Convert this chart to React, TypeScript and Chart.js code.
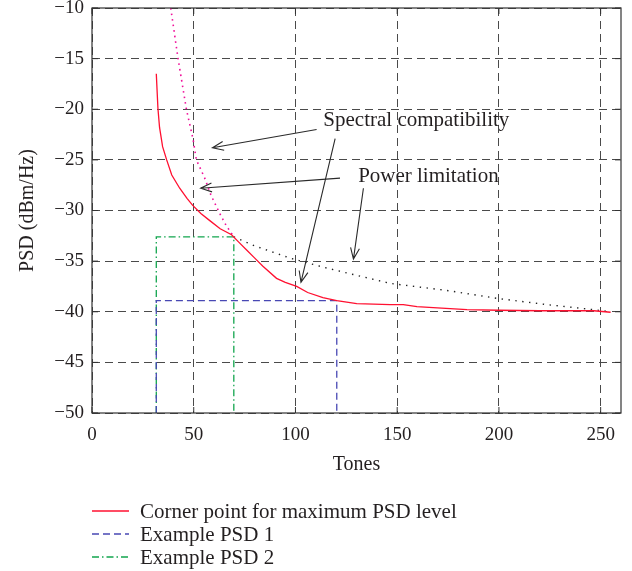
import { useEffect, useRef } from 'react';
import { Chart, registerables } from 'chart.js';

Chart.register(...registerables);

// ---- Data ----
const cornerTones = [31.6, 32.4, 33.2, 34.7, 36.7, 39.2, 43.1, 46.7, 49.5, 53.5, 57.9, 63, 68.6, 72, 76, 80, 84, 90.7, 95, 100.6, 106, 113.5, 120.3, 130.1, 146.6, 153, 159.7, 167.7, 184.3, 200, 220, 246.6, 254.9];
const cornerPSD = [-16.5, -19.9, -21.8, -23.7, -25, -26.5, -27.8, -28.8, -29.5, -30.3, -31, -31.8, -32.4, -33.1, -33.9, -34.7, -35.5, -36.7, -37.1, -37.5, -38.1, -38.6, -38.9, -39.2, -39.3, -39.3, -39.5, -39.6, -39.8, -39.85, -39.9, -39.9, -40.05];

const psd1Tones = [31.6, 31.6, 120.3, 120.3];
const psd1Values = [-50, -38.9, -38.9, -50];

const psd2Tones = [31.6, 31.6, 69.7, 69.7];
const psd2Values = [-50, -32.6, -32.6, -50];

const spectralTones = [38.7, 42.3, 46.4, 49.7, 51.3, 55.4, 58.5, 62.8, 66, 69.7];
const spectralPSD = [-10, -15, -20, -23, -25, -26.8, -28.5, -30.3, -31.5, -32.6];

const powerTones = [69.7, 80, 97.3, 113.7, 130, 146.6, 174.5, 199.9, 223.7, 246.7, 255];
const powerPSD = [-32.6, -33.5, -34.7, -35.6, -36.4, -37.2, -37.9, -38.7, -39.3, -39.8, -40];

const seriesLabels = ['Corner point for maximum PSD level', 'Example PSD 1', 'Example PSD 2', 'Spectral compatibility', 'Power limitation'];
const xTickValues = [0, 50, 100, 150, 200, 250];
const yTickValues = [-50, -45, -40, -35, -30, -25, -20, -15, -10];
const xAxisTitle = 'Tones';
const yAxisTitle = 'PSD (dBm/Hz)';

// annotation texts and arrows in data coordinates
const noteTexts = ['Spectral compatibility', 'Power limitation'];
const noteAnchors = [
  { x: 113.7, y: -21.65 },
  { x: 130.8, y: -27.15 },
];
const arrowList = [
  { from: { x: 110.4, y: -22.0 }, to: { x: 59.2, y: -23.8 } },
  { from: { x: 119.5, y: -22.9 }, to: { x: 102.7, y: -37.1 } },
  { from: { x: 121.9, y: -26.8 }, to: { x: 53.4, y: -27.8 } },
  { from: { x: 133.4, y: -27.8 }, to: { x: 128.5, y: -34.8 } },
];

const SERIF = '"Liberation Serif", "Times New Roman", serif';
const TEXT = '#231f20';

const pts = (xs: number[], ys: number[]) => xs.map((x, i) => ({ x, y: ys[i] }));
const fmt = (v: number) => (v < 0 ? '\u2212' + Math.abs(v) : String(v));

const overlayPlugin = {
  id: 'overlay',
  afterDatasetsDraw(chart: any) {
    const { ctx, chartArea: a, scales } = chart;
    const xs = scales.x;
    const ys = scales.y;
    ctx.save();
    // frame
    ctx.strokeStyle = '#333';
    ctx.lineWidth = 1.2;
    ctx.setLineDash([]);
    ctx.strokeRect(a.left, a.top, a.right - a.left, a.bottom - a.top);
    // inward tick marks
    ctx.lineWidth = 1;
    ctx.beginPath();
    for (const v of yTickValues) {
      const py = ys.getPixelForValue(v);
      ctx.moveTo(a.left, py); ctx.lineTo(a.left + 6, py);
      ctx.moveTo(a.right, py); ctx.lineTo(a.right - 6, py);
    }
    for (const v of xTickValues) {
      const px = xs.getPixelForValue(v);
      ctx.moveTo(px, a.bottom); ctx.lineTo(px, a.bottom - 6);
      ctx.moveTo(px, a.top); ctx.lineTo(px, a.top + 6);
    }
    ctx.stroke();

    // arrows
    ctx.strokeStyle = '#2a2a2a';
    ctx.lineWidth = 1.1;
    for (const ar of arrowList) {
      const x1 = xs.getPixelForValue(ar.from.x);
      const y1 = ys.getPixelForValue(ar.from.y);
      const x2 = xs.getPixelForValue(ar.to.x);
      const y2 = ys.getPixelForValue(ar.to.y);
      const ang = Math.atan2(y2 - y1, x2 - x1);
      const L = 12;
      const spread = 0.38;
      ctx.beginPath();
      ctx.moveTo(x1, y1);
      ctx.lineTo(x2, y2);
      ctx.moveTo(x2 - L * Math.cos(ang - spread), y2 - L * Math.sin(ang - spread));
      ctx.lineTo(x2, y2);
      ctx.lineTo(x2 - L * Math.cos(ang + spread), y2 - L * Math.sin(ang + spread));
      ctx.stroke();
    }

    // annotation texts
    ctx.fillStyle = TEXT;
    ctx.font = `21px ${SERIF}`;
    ctx.textAlign = 'left';
    ctx.textBaseline = 'alphabetic';
    noteTexts.forEach((t, i) => {
      ctx.fillText(t, xs.getPixelForValue(noteAnchors[i].x), ys.getPixelForValue(noteAnchors[i].y));
    });

    // legend (first three datasets)
    const rowY = [511, 534, 557];
    for (let i = 0; i < 3; i++) {
      const ds = chart.data.datasets[i];
      const y = rowY[i];
      ctx.strokeStyle = ds.borderColor;
      ctx.lineWidth = ds.borderWidth;
      ctx.setLineDash(ds.borderDash || []);
      ctx.beginPath();
      ctx.moveTo(a.left, y);
      ctx.lineTo(a.left + 37, y);
      ctx.stroke();
      ctx.setLineDash([]);
      ctx.fillStyle = TEXT;
      ctx.font = `21px ${SERIF}`;
      ctx.textBaseline = 'middle';
      ctx.fillText(ds.label, a.left + 48, y + 1);
    }
    ctx.restore();
  },
};

export default function App() {
  const ref = useRef<HTMLCanvasElement>(null);
  useEffect(() => {
    document.body.style.margin = '0';
    const canvas = ref.current!;
    const tickFont = { family: SERIF, size: 19 };
    const titleFont = { family: SERIF, size: 20 };
    const chart = new Chart(canvas, {
      type: 'scatter',
      data: {
        datasets: [
          { label: seriesLabels[0], data: pts(cornerTones, cornerPSD), borderColor: '#ff1030', borderWidth: 1.3, showLine: true, pointRadius: 0, borderDash: [] },
          { label: seriesLabels[1], data: pts(psd1Tones, psd1Values), borderColor: '#4848b4', borderWidth: 1.3, showLine: true, pointRadius: 0, borderDash: [7, 4] },
          { label: seriesLabels[2], data: pts(psd2Tones, psd2Values), borderColor: '#12a54e', borderWidth: 1.3, showLine: true, pointRadius: 0, borderDash: [7, 3, 1.5, 3] },
          { label: seriesLabels[3], data: pts(spectralTones, spectralPSD), borderColor: '#f0109a', borderWidth: 1.6, showLine: true, pointRadius: 0, borderDash: [1.6, 4], borderCapStyle: 'butt' },
          { label: seriesLabels[4], data: pts(powerTones, powerPSD), borderColor: '#222', borderWidth: 1.4, showLine: true, pointRadius: 0, borderDash: [1.4, 5.5] },
        ] as any,
      },
      options: {
        responsive: false,
        animation: false,
        events: [],
        layout: { padding: { top: 8, right: 11, bottom: 88, left: 0 } },
        plugins: { legend: { display: false }, tooltip: { enabled: false } },
        scales: {
          x: {
            type: 'linear',
            min: 0,
            max: 260,
            position: 'bottom',
            ticks: {
              stepSize: 50,
              includeBounds: false,
              padding: 11,
              color: TEXT,
              font: tickFont,
              callback: (v: any) => fmt(Number(v)),
            },
            grid: { color: '#4a4a4a', lineWidth: 1, drawTicks: false },
            border: { display: false, dash: [8, 5] },
            title: { display: true, text: xAxisTitle, color: TEXT, font: titleFont, padding: { top: 0, bottom: 6 } },
            afterFit: (s: any) => { s.height = 70; s.paddingLeft = 0; s.paddingRight = 0; },
          },
          y: {
            type: 'linear',
            min: -50,
            max: -10,
            ticks: {
              stepSize: 5,
              padding: 8,
              color: TEXT,
              font: tickFont,
              callback: (v: any) => fmt(Number(v)),
            },
            grid: { color: '#4a4a4a', lineWidth: 1, drawTicks: false },
            border: { display: false, dash: [8, 5] },
            title: { display: true, text: yAxisTitle, color: TEXT, font: titleFont, padding: { top: 16, bottom: 0 } },
            afterFit: (s: any) => { s.width = 92; s.paddingTop = 0; s.paddingBottom = 0; },
          },
        },
      } as any,
      plugins: [overlayPlugin],
    });
    return () => chart.destroy();
  }, []);
  return (
    <div style={{ width: 632, height: 571 }}>
      <canvas ref={ref} width={632} height={571} style={{ display: 'block' }} />
    </div>
  );
}
